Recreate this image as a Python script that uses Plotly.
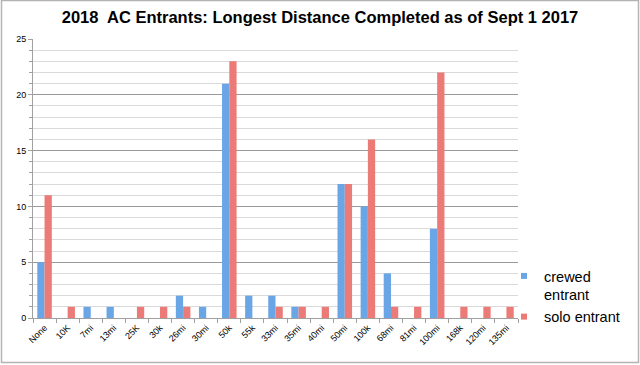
import plotly.graph_objects as go

categories = ["None", "10K", "7mi", "13mi", "25K", "30k", "26mi", "30mi", "50k", "55k",
              "33mi", "35mi", "40mi", "50mi", "100k", "68mi", "81mi", "100mi", "168k",
              "120mi", "135mi"]
crewed = [5, 0, 1, 1, 0, 0, 2, 1, 21, 2, 2, 1, 0, 12, 10, 4, 0, 8, 0, 0, 0]
solo = [11, 1, 0, 0, 1, 1, 1, 0, 23, 0, 1, 1, 1, 12, 16, 1, 1, 22, 1, 1, 1]
series_names = ["crewed<br>entrant", "solo entrant"]
series_colors = ["#6aa6e6", "#ec7a76"]

W, H = 640, 365
L, R, T, B = 33, 122, 39, 47
pw, ph = W - L - R, H - T - B

fig = go.Figure()
for vals, name, col in zip([crewed, solo], series_names, series_colors):
    fig.add_trace(go.Bar(x=categories, y=vals, name=name, showlegend=False,
                         marker=dict(color=col, line=dict(width=0))))
for name, col in zip(series_names, series_colors):
    fig.add_trace(go.Scatter(x=[None], y=[None], mode="markers", name=name,
                             marker=dict(symbol="square", size=6, color=col)))

def px_x(p):
    return (p - L) / pw

def px_y(p):
    return 1 - (p - T) / ph

fig.add_shape(type="rect", xref="paper", yref="paper",
              x0=px_x(1.5), x1=px_x(638.5), y0=px_y(362.5), y1=px_y(0.5),
              line=dict(color="#b4b4b4", width=1.5), layer="above")

fig.update_layout(
    width=W, height=H,
    margin=dict(l=L, r=R, t=T, b=B, autoexpand=False),
    paper_bgcolor="white", plot_bgcolor="white",
    barmode="group", bargap=0.37, bargroupgap=0,
    font=dict(family="Liberation Sans, Arial, sans-serif", color="#000000"),
    title=dict(text="<b>2018  AC Entrants: Longest Distance Completed as of Sept 1 2017</b>",
               x=0.5, xref="container", xanchor="center", y=1 - 17 / H, yanchor="middle",
               font=dict(size=16.5, color="#000000")),
    showlegend=True,
    legend=dict(x=px_x(504), y=px_y(260), xanchor="left", yanchor="top",
                font=dict(size=14.5, color="#000000"), itemwidth=30, valign="top",
                tracegroupgap=4, bgcolor="rgba(0,0,0,0)"),
    xaxis=dict(type="category", tickangle=-45, tickfont=dict(size=9),
               automargin=False,
               showline=True, linecolor="#a0a0a0", linewidth=1,
               ticks="outside", tickson="boundaries", ticklen=4, tickcolor="#a0a0a0",
               showgrid=False),
    yaxis=dict(range=[0, 25], dtick=5, tickfont=dict(size=9), automargin=False,
               showline=True, linecolor="#a0a0a0", linewidth=1,
               ticks="outside", ticklen=4, tickcolor="#a0a0a0",
               showgrid=True, gridcolor="#9a9a9a", gridwidth=1, zeroline=False,
               minor=dict(dtick=1, showgrid=True, gridcolor="#dadada", gridwidth=1,
                          ticks="outside", ticklen=3, tickcolor="#a0a0a0")),
)

fig.write_html("out.html", config={"displayModeBar": False},
               post_script="document.body.style.margin='0px';document.body.style.overflow='hidden';")
